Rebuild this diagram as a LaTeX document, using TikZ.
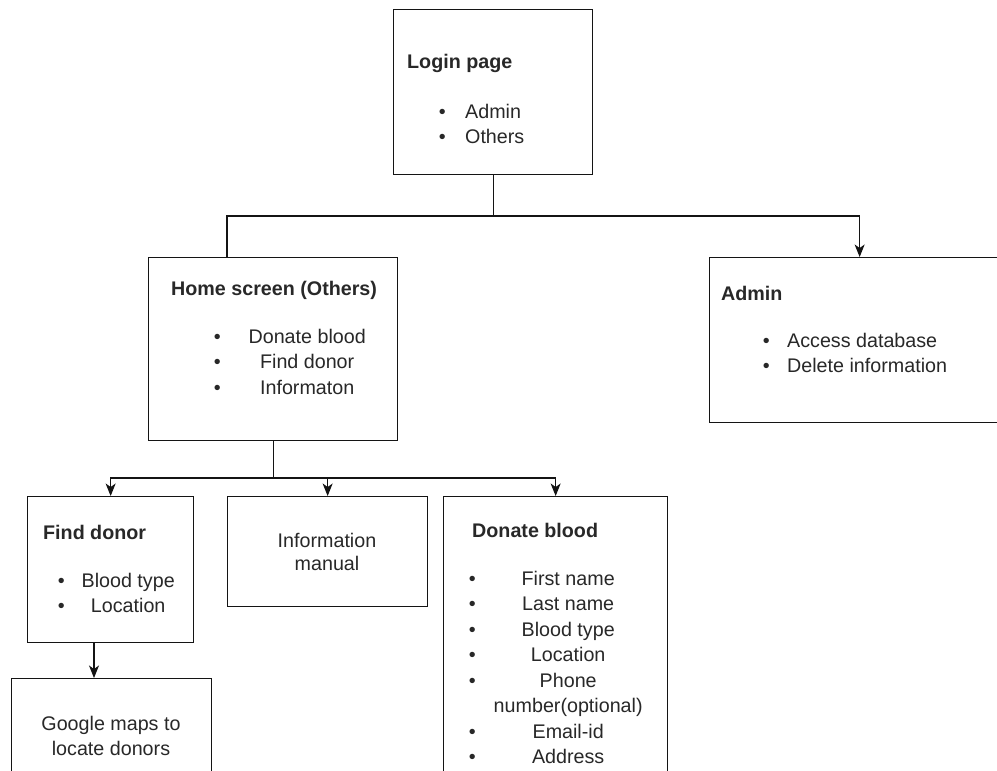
\documentclass[tikz,border=0pt]{standalone}
\usepackage{fontspec}
\setmainfont{Liberation Sans}
\usepackage{array}
\usepackage{tikz}
\usetikzlibrary{arrows.meta}
\definecolor{lineDark}{RGB}{20,20,20}
\definecolor{textDark}{RGB}{40,40,40}
\newcolumntype{B}{>{\centering\arraybackslash}p{20pt}}
\newcolumntype{C}[1]{>{\centering\arraybackslash}p{#1}}
\tikzset{
  screenbox/.style={
    rectangle, draw=lineDark, line width=1.3pt, fill=white,
    anchor=north west, inner sep=0pt
  },
  bodytext/.style={inner sep=0pt, text=textDark, font=\fontsize{19.7}{25.5}\selectfont},
  headtext/.style={bodytext, font=\fontsize{19.7}{25.5}\selectfont\bfseries},
  flowLine/.style={draw=lineDark, line width=1.3pt},
  flowArrow/.style={flowLine, -{Stealth[length=12.5pt,width=10pt,inset=3.5pt]}}
}
\begin{document}
\begin{tikzpicture}[x=1pt,y=-1pt]
        \clip (0,0) rectangle (997,771);
        % screens
        \node[screenbox, minimum width=199pt, minimum height=165pt] (login) at (393,9) {};
        \node[screenbox, minimum width=249pt, minimum height=183pt] (home) at (148,257) {};
        \node[screenbox, minimum width=300pt, minimum height=165pt] (admin) at (709,257) {};
        \node[screenbox, minimum width=166pt, minimum height=146pt] (find) at (27,496) {};
        \node[screenbox, minimum width=200pt, minimum height=110pt] (info) at (227,496) {};
        \node[screenbox, minimum width=224pt, minimum height=300pt] (donate) at (443,496) {};
        \node[screenbox, minimum width=200pt, minimum height=120pt] (google) at (11,678) {};

        % texts
        \node[headtext, anchor=base west] (loginHead) at (407,68) {Login page};
        \node[bodytext, anchor=base west] (loginList) at (432,118)
          {\begin{tabular}[t]{@{}B@{\hspace{13pt}}l@{}}
             \textbullet & Admin\\
             \textbullet & Others
           \end{tabular}};
        \node[headtext, anchor=base west] (homeHead) at (171,295) {Home screen (Others)};
        \node[bodytext, anchor=base west] (homeList) at (207,343)
          {\begin{tabular}[t]{@{}B@{}C{160pt}@{}}
             \textbullet & Donate blood\\
             \textbullet & Find donor\\
             \textbullet & Informaton
           \end{tabular}};
        \node[headtext, anchor=base west] (adminHead) at (721,300) {Admin};
        \node[bodytext, anchor=base west] (adminList) at (756,347)
          {\begin{tabular}[t]{@{}B@{\hspace{11pt}}l@{}}
             \textbullet & Access database\\
             \textbullet & Delete information
           \end{tabular}};
        \node[headtext, anchor=base west] (findHead) at (43,539) {Find donor};
        \node[bodytext, anchor=base west] (findList) at (51,587)
          {\begin{tabular}[t]{@{}B@{}C{114pt}@{}}
             \textbullet & Blood type\\
             \textbullet & Location
           \end{tabular}};
        \node[bodytext, anchor=base] (infoText) at (327,547)
          {\renewcommand{\arraystretch}{0.92}%
           \begin{tabular}[t]{@{}c@{}}Information\\ manual\end{tabular}};
        \node[headtext, anchor=base west] (donateHead) at (472,537) {Donate blood};
        \node[bodytext, anchor=base west] (donateList) at (462,585)
          {\begin{tabular}[t]{@{}B@{}C{172pt}@{}}
             \textbullet & First name\\
             \textbullet & Last name\\
             \textbullet & Blood type\\
             \textbullet & Location\\
             \textbullet & Phone\\
                         & number(optional)\\
             \textbullet & Email-id\\
             \textbullet & Address
           \end{tabular}};
        \node[bodytext, anchor=base] (googleText) at (111,730)
          {\begin{tabular}[t]{@{}c@{}}Google maps to\\ locate donors\end{tabular}};

        % connectors
        \coordinate (busTop) at (227,216);
        \coordinate (busMid) at (0,478);
        \coordinate (findDrop) at (94,0);
        \draw[flowLine] (login.south) -- (login.south |- busTop) -- (busTop) -- (busTop |- home.north);
        \draw[flowArrow] (login.south |- busTop) -| (admin.north);
        \draw[flowArrow] (home.south) -- (home.south |- busMid) -| (find.north);
        \draw[flowArrow] (home.south |- busMid) -| (info.north);
        \draw[flowArrow] (home.south |- busMid) -| (donate.north);
        \draw[flowArrow] (find.south -| findDrop) -- (google.north -| findDrop);
      \end{tikzpicture}
\end{document}
